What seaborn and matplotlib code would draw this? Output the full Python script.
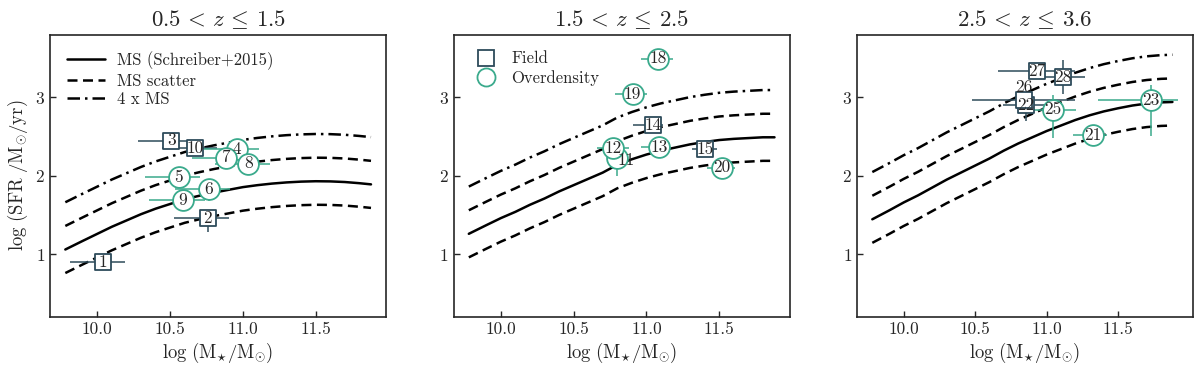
import numpy as np
import pandas as pd
import matplotlib
matplotlib.use('Agg')
import matplotlib.pyplot as plt
import seaborn as sns
from matplotlib.lines import Line2D

# redshift bins
bin_titles = [r'$0.5\,<\,z\,\leq\,1.5$', r'$1.5\,<\,z\,\leq\,2.5$', r'$2.5\,<\,z\,\leq\,3.6$']

# main sequence (Schreiber+2015)
ms_mass = [9.78, 9.9, 10.0, 10.1, 10.2, 10.3, 10.4, 10.5, 10.6, 10.7, 10.8,
           10.9, 11.0, 11.1, 11.2, 11.3, 11.4, 11.5, 11.6, 11.7, 11.8, 11.88]
ms_sfr_bin1 = [1.06, 1.17, 1.26, 1.35, 1.43, 1.51, 1.58, 1.64, 1.70, 1.745, 1.785,
               1.82, 1.855, 1.88, 1.90, 1.915, 1.925, 1.93, 1.928, 1.92, 1.905, 1.89]
ms_sfr_bin2 = [1.26, 1.37, 1.46, 1.54, 1.63, 1.71, 1.80, 1.88, 1.96, 2.04, 2.14,
               2.21, 2.27, 2.32, 2.36, 2.40, 2.43, 2.455, 2.47, 2.48, 2.49, 2.49]
ms_sfr_bin3 = [1.445, 1.56, 1.66, 1.75, 1.85, 1.95, 2.04, 2.13, 2.22, 2.32, 2.41,
               2.49, 2.57, 2.64, 2.71, 2.77, 2.82, 2.86, 2.895, 2.92, 2.935, 2.94]
ms_scatter = 0.3
ms_4x = np.log10(4)

# field galaxies
field_id = [1, 2, 3, 10, 14, 15, 22, 26, 27, 28]
field_bin = [0, 0, 0, 0, 1, 1, 2, 2, 2, 2]
field_mass = [10.04, 10.757, 10.508, 10.671, 11.047, 11.402, 10.856, 10.84, 10.929, 11.116]
field_sfr = [0.895, 1.456, 2.447, 2.35, 2.646, 2.338, 2.90, 2.962, 3.333, 3.258]
field_mass_lo = [0.23, 0.23, 0.23, 0.23, 0.14, 0.09, 0.16, 0.36, 0.27, 0.14]
field_mass_hi = [0.15, 0.15, 0.15, 0.15, 0.07, 0.08, 0.16, 0.36, 0.27, 0.15]
field_sfr_lo = [0.10, 0.17, 0.05, 0.05, 0.05, 0.05, 0.20, 0.05, 0.05, 0.22]
field_sfr_hi = [0.10, 0.10, 0.05, 0.05, 0.05, 0.05, 0.05, 0.05, 0.05, 0.22]

# overdensity galaxies
od_id = [4, 5, 6, 7, 8, 9, 11, 12, 13, 18, 19, 20, 21, 23, 25]
od_bin = [0, 0, 0, 0, 0, 0, 1, 1, 1, 1, 1, 1, 2, 2, 2]
od_mass = [10.961, 10.558, 10.764, 10.882, 11.036, 10.587, 10.797, 10.772, 11.086,
           11.081, 10.905, 11.517, 11.322, 11.729, 11.044]
od_sfr = [2.342, 1.978, 1.83, 2.232, 2.156, 1.687, 2.228, 2.35, 2.363,
          3.49, 3.043, 2.105, 2.519, 2.962, 2.844]
od_mass_lo = [0.23, 0.23, 0.23, 0.23, 0.23, 0.23, 0.05, 0.11, 0.12, 0.12, 0.12, 0.10, 0.14, 0.37, 0.13]
od_mass_hi = [0.15, 0.15, 0.15, 0.15, 0.15, 0.15, 0.05, 0.11, 0.06, 0.10, 0.10, 0.09, 0.10, 0.19, 0.16]
od_sfr_lo = [0.05, 0.05, 0.15, 0.05, 0.05, 0.05, 0.23, 0.05, 0.05, 0.12, 0.05, 0.05, 0.05, 0.46, 0.36]
od_sfr_hi = [0.05, 0.05, 0.05, 0.05, 0.05, 0.05, 0.23, 0.11, 0.05, 0.05, 0.05, 0.05, 0.05, 0.20, 0.19]

# labels that sit off their marker (points)
label_shift = {11: (7, -2), 26: (0, 9.5)}

field_color = '#2d4b5a'
od_color = '#3aaa8c'

sns.set_theme(style='ticks')
plt.rcParams['font.family'] = ['serif']
plt.rcParams['font.serif'] = ['cmr10', 'DejaVu Serif']
plt.rcParams['mathtext.fontset'] = 'cm'
plt.rcParams['axes.formatter.use_mathtext'] = True
plt.rcParams['axes.unicode_minus'] = False

field = pd.DataFrame({'id': field_id, 'bin': field_bin, 'mass': field_mass, 'sfr': field_sfr,
                      'mlo': field_mass_lo, 'mhi': field_mass_hi,
                      'slo': field_sfr_lo, 'shi': field_sfr_hi})
od = pd.DataFrame({'id': od_id, 'bin': od_bin, 'mass': od_mass, 'sfr': od_sfr,
                   'mlo': od_mass_lo, 'mhi': od_mass_hi,
                   'slo': od_sfr_lo, 'shi': od_sfr_hi})
ms_curves = [ms_sfr_bin1, ms_sfr_bin2, ms_sfr_bin3]
samples = [(field, field_color, 's', 12), (od, od_color, 'o', 15)]

fig, axes = plt.subplots(1, 3, figsize=(12, 3.71), dpi=100)
fig.subplots_adjust(left=0.0417, right=0.9944, bottom=0.1456, top=0.907, wspace=0.2)

for i, ax in enumerate(axes):
    ms = np.array(ms_curves[i])
    sns.lineplot(x=ms_mass, y=ms, ax=ax, color='black', lw=1.8, zorder=1)
    sns.lineplot(x=ms_mass, y=ms + ms_scatter, ax=ax, color='black', lw=1.8,
                 linestyle=(0, (4, 2.2)), zorder=1)
    sns.lineplot(x=ms_mass, y=ms - ms_scatter, ax=ax, color='black', lw=1.8,
                 linestyle=(0, (4, 2.2)), zorder=1)
    sns.lineplot(x=ms_mass, y=ms + ms_4x, ax=ax, color='black', lw=1.8,
                 linestyle=(0, (5, 2, 1, 2)), zorder=1)

    for df, col, mk, size in samples:
        sub = df[df['bin'] == i]
        ax.errorbar(sub['mass'], sub['sfr'], xerr=[sub['mlo'], sub['mhi']],
                    yerr=[sub['slo'], sub['shi']], fmt='none', ecolor=col,
                    elinewidth=1.1, capsize=0, zorder=2)
    for df, col, mk, size in samples:
        sub = df[df['bin'] == i]
        sns.scatterplot(data=sub, x='mass', y='sfr', ax=ax, marker=mk, s=size ** 2,
                        color='white', edgecolor=col, linewidth=1.3, zorder=3, legend=False)
        for _, row in sub.iterrows():
            dx, dy = label_shift.get(int(row['id']), (0, 0))
            ax.annotate(str(int(row['id'])), (row['mass'], row['sfr']),
                        xytext=(dx, dy), textcoords='offset points',
                        ha='center', va='center', fontsize=12.5, zorder=4)

    ax.set_title(bin_titles[i], fontsize=16.5, pad=6)
    ax.set_ylim(0.2, 3.8)
    ax.set_xticks([10.0, 10.5, 11.0, 11.5])
    ax.set_xticklabels(['10.0', '10.5', '11.0', '11.5'])
    ax.set_yticks([1, 2, 3])
    ax.tick_params(direction='in', length=4, width=1, labelsize=12.5)
    ax.set_xlabel(r'$\mathrm{log\ (M_{\star}/M_{\odot})}$', fontsize=13.5, labelpad=3)
    ax.set_ylabel('')
    for sp in ax.spines.values():
        sp.set_linewidth(1.2)
        sp.set_visible(True)

axes[0].set_ylabel(r'$\mathrm{log\ (SFR\ /M_{\odot}/yr)}$', fontsize=13.5, labelpad=4)

line_handles = [Line2D([], [], color='black', lw=1.8),
                Line2D([], [], color='black', lw=1.8, linestyle=(0, (4, 2.2))),
                Line2D([], [], color='black', lw=1.8, linestyle=(0, (5, 2, 1, 2)))]
axes[0].legend(line_handles, ['MS (Schreiber+2015)', 'MS scatter', '4 x MS'],
               loc='upper left', frameon=False, fontsize=12, handlelength=2.3,
               handletextpad=0.7, labelspacing=0.2, borderaxespad=0.6)

marker_handles = [Line2D([], [], ls='none', marker='s', ms=12, mfc='white',
                         mec=field_color, mew=1.3),
                  Line2D([], [], ls='none', marker='o', ms=13, mfc='white',
                         mec=od_color, mew=1.3)]
axes[1].legend(marker_handles, ['Field', 'Overdensity'], loc='upper left',
               bbox_to_anchor=(0.018, 1.0), frameon=False, fontsize=12,
               handlelength=1.2, handletextpad=0.9, labelspacing=0.2, borderaxespad=0.6)

fig.savefig('out.png', dpi=100)
